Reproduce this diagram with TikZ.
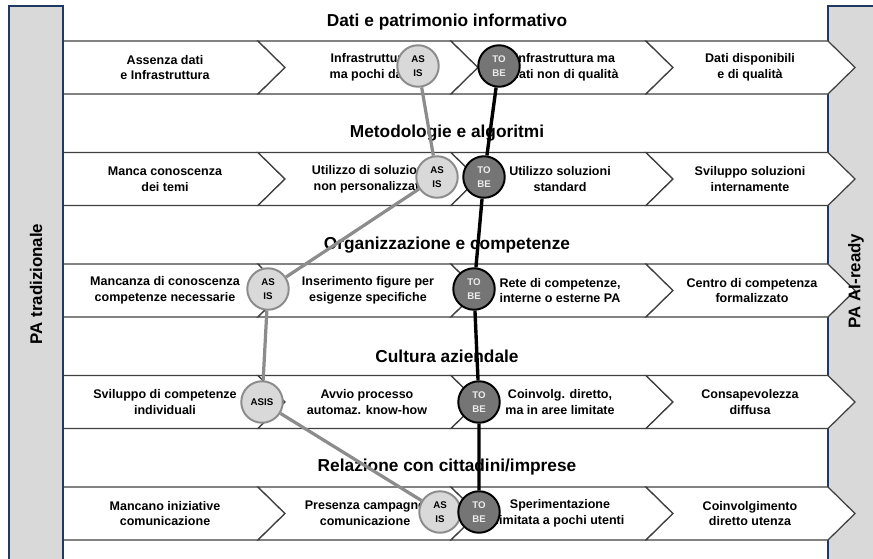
\documentclass[tikz,border=0pt]{standalone}
\usepackage{fontspec}
\setmainfont{Liberation Sans}
\definecolor{barblue}{HTML}{203864}
\definecolor{bargray}{HTML}{D9D9D9}
\definecolor{asfill}{HTML}{D9D9D9}
\definecolor{asline}{HTML}{8C8C8C}
\definecolor{tbfill}{HTML}{757575}
\begin{document}
\begin{tikzpicture}[x=0.025cm,y=-0.025cm,
    chev/.style={draw=black!75,fill=white,line width=0.9pt},
    sidebar/.style={draw=barblue,fill=bargray,line width=0.8pt},
    sidetxt/.style={font=\bfseries\fontsize{12}{14}\selectfont,rotate=90},
    lbl/.style={font=\bfseries\fontsize{8.9}{11.3}\selectfont,align=center},
    ttl/.style={font=\bfseries\fontsize{12.3}{14}\selectfont},
    asis/.style={circle,draw=asline,fill=asfill,line width=1.4pt,minimum size=29.5pt,
      inner sep=0pt,align=center,font=\bfseries\fontsize{6.9}{9.5}\selectfont},
    tobe/.style={asis,draw=black,fill=tbfill,text=white!92!black},
    asconn/.style={draw=asline,line width=2.3pt},
    tbconn/.style={draw=black,line width=2.4pt}]
  \useasboundingbox (0,0) rectangle (873,558);
  \draw[sidebar] (828,6) rectangle (890,575);
  % chevron rows
  \foreach \y in {41,152.5,264,375.5,487} {
    \draw[chev] (63,\y) -- (258,\y) -- (285,\y+26.5) -- (258,\y+53) -- (63,\y+53) -- cycle;
    \draw[chev] (258,\y) -- (451,\y) -- (478,\y+26.5) -- (451,\y+53) -- (258,\y+53) -- (285,\y+26.5) -- cycle;
    \draw[chev] (451,\y) -- (646,\y) -- (673,\y+26.5) -- (646,\y+53) -- (451,\y+53) -- (478,\y+26.5) -- cycle;
    \draw[chev] (646,\y) -- (828,\y) -- (855,\y+26.5) -- (828,\y+53) -- (646,\y+53) -- (673,\y+26.5) -- cycle;
  }
  \draw[sidebar] (9,6) rectangle (63,575);
  \node[sidetxt] (trad) at (36,284) {PA tradizionale};
  \node[sidetxt] (ready) at (856,281) {PA AI-ready};

  % titles
  \node[ttl] (t1) at (447,22) {Dati e patrimonio informativo};
  \node[ttl] (t2) at (447,133) {Metodologie e algoritmi};
  \node[ttl] (t3) at (447,245) {Organizzazione e competenze};
  \node[ttl] (t4) at (447,356) {Cultura aziendale};
  \node[ttl] (t5) at (447,467) {Relazione con cittadini/imprese};

  % row 1
  \node[lbl] (a1) at (165,67.5) {Assenza dati\\e Infrastruttura};
  \node[lbl] (b1) at (370,67.5) {Infrastruttura\\ma pochi dati};
  \node[lbl] (c1) at (565,67.5) {Infrastruttura ma\\dati non di qualità};
  \node[lbl] (d1) at (750,67.5) {Dati disponibili\\e di qualità};
  % row 2
  \node[lbl] (a2) at (165,179) {Manca conoscenza\\dei temi};
  \node[lbl] (b2) at (370,179) {Utilizzo di soluzioni\\non personalizzate};
  \node[lbl] (c2) at (560,179) {Utilizzo soluzioni\\standard};
  \node[lbl] (d2) at (750,179) {Sviluppo soluzioni\\internamente};
  % row 3
  \node[lbl] (a3) at (165,290.5) {Mancanza di conoscenza\\competenze necessarie};
  \node[lbl] (b3) at (368,290.5) {Inserimento figure per\\esigenze specifiche};
  \node[lbl] (c3) at (560,290.5) {Rete di competenze,\\interne o esterne PA};
  \node[lbl] (d3) at (752,290.5) {Centro di competenza\\formalizzato};
  % row 4
  \node[lbl] (a4) at (165,402) {Sviluppo di competenze\\individuali};
  \node[lbl] (b4) at (367,402) {Avvio processo\\automaz. know-how};
  \node[lbl] (c4) at (560,402) {Coinvolg. diretto,\\ma in aree limitate};
  \node[lbl] (d4) at (750,402) {Consapevolezza\\diffusa};
  % row 5
  \node[lbl] (a5) at (165,513.5) {Mancano iniziative\\comunicazione};
  \node[lbl] (b5) at (365,513.5) {Presenza campagne\\comunicazione};
  \node[lbl] (c5) at (560,513.5) {Sperimentazione\\limitata a pochi utenti};
  \node[lbl] (d5) at (750,513.5) {Coinvolgimento\\diretto utenza};

  % as is / to be
  \node[asis] (as1) at (418,66) {AS\\IS};
  \node[asis] (as2) at (437,177) {AS\\IS};
  \node[asis] (as3) at (268,289) {AS\\IS};
  \node[asis] (as4) at (262,402) {ASIS};
  \node[asis] (as5) at (440,512) {AS\\IS};
  \node[tobe] (tb1) at (499,66) {TO\\BE};
  \node[tobe] (tb2) at (484,177) {TO\\BE};
  \node[tobe] (tb3) at (474,289) {TO\\BE};
  \node[tobe] (tb4) at (479,402) {TO\\BE};
  \node[tobe] (tb5) at (479,512) {TO\\BE};
  \draw[asconn] (as1) -- (as2) -- (as3) -- (as4) -- (as5);
  \draw[tbconn] (tb1) -- (tb2) -- (tb3) -- (tb4) -- (tb5);
\end{tikzpicture}
\end{document}
